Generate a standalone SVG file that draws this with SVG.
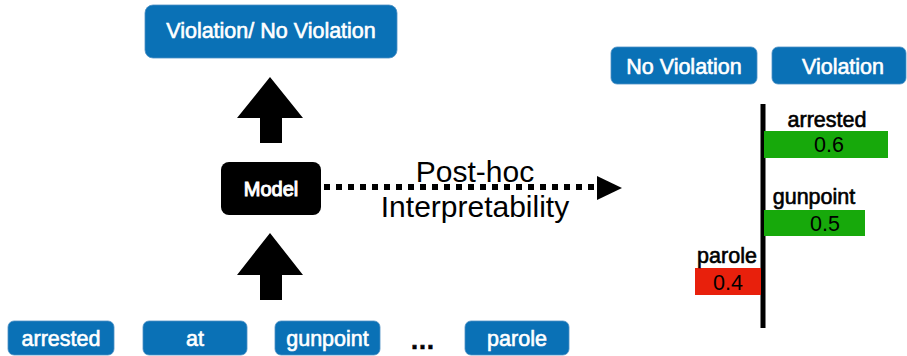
<svg xmlns="http://www.w3.org/2000/svg" width="907" height="356" viewBox="0 0 907 356">
<style>
.box{fill:#0a71b6;stroke:#4d8fc4;stroke-width:0.8}
.lbl{font-family:"Liberation Sans",Arial,sans-serif;font-size:21.5px;fill:#ffffff;stroke:#ffffff;stroke-width:0.6;text-anchor:middle}
.blk{font-family:"Liberation Sans",Arial,sans-serif;font-size:21.5px;fill:#000000;stroke:#000000;stroke-width:0.6;text-anchor:middle}
.num{font-family:"Liberation Sans",Arial,sans-serif;font-size:21.5px;fill:#000000;text-anchor:middle}
.big{font-family:"Liberation Sans",Arial,sans-serif;font-size:30px;fill:#000000;text-anchor:middle}
</style>
<rect width="907" height="356" fill="#ffffff"/>
<g id="output">
<rect class="box" x="145" y="5" width="252" height="53" rx="8"/>
<text class="lbl" x="271" y="38">Violation/ No Violation</text>
</g>
<g id="model">
<rect x="221" y="162" width="100" height="53" rx="8" fill="#000000"/>
<text class="lbl" x="271" y="195.5" style="font-size:20px;stroke-width:1">Model</text>
</g>
<g id="tok-arrested">
<rect class="box" x="8" y="321" width="106" height="34" rx="6"/>
<text class="lbl" x="61" y="345.5">arrested</text>
</g>
<g id="tok-at">
<rect class="box" x="143" y="321" width="104" height="34" rx="6"/>
<text class="lbl" x="195" y="345.5">at</text>
</g>
<g id="tok-gunpoint">
<rect class="box" x="275" y="321" width="105" height="34" rx="6"/>
<text class="lbl" x="327.5" y="345.5">gunpoint</text>
</g>
<text class="blk" x="422.5" y="349" style="font-size:25px;font-weight:bold">…</text>
<g id="tok-parole">
<rect class="box" x="465" y="321" width="104" height="34" rx="6"/>
<text class="lbl" x="517" y="345.5">parole</text>
</g>
<g id="connectors">
<polygon points="270,77 303,118 282,118 282,143 260,143 260,118 237,118" fill="#000000"/>
<polygon points="270,233 303,275 282,275 282,300 260,300 260,275 237,275" fill="#000000"/>
<line x1="324" y1="187" x2="597" y2="187" stroke="#000000" stroke-width="6" stroke-dasharray="6 6"/>
<polygon points="597,176 622,188 597,200" fill="#000000"/>
</g>
<text class="big" x="475" y="182">Post-hoc</text>
<text class="big" x="475" y="217">Interpretability</text>
<g id="cls-noviolation">
<rect class="box" x="611" y="47" width="146" height="37" rx="6"/>
<text class="lbl" x="684" y="73.5">No Violation</text>
</g>
<g id="cls-violation">
<rect class="box" x="772" y="47" width="134" height="37" rx="6"/>
<text class="lbl" x="843" y="73.5">Violation</text>
</g>
<g id="chart">
<line x1="763" y1="104" x2="763" y2="328" stroke="#000000" stroke-width="5"/>
<rect x="764" y="131" width="124" height="27" fill="#17a90b"/>
<text class="num" x="829" y="152">0.6</text>
<text class="blk" x="827" y="127">arrested</text>
<rect x="764" y="210" width="101" height="26" fill="#17a90b"/>
<text class="num" x="825" y="230.5">0.5</text>
<text class="blk" x="814" y="203.5">gunpoint</text>
<rect x="695" y="268" width="66" height="27" fill="#e8200c"/>
<text class="num" x="728" y="289.5">0.4</text>
<text class="blk" x="727" y="262.5">parole</text>
</g>
</svg>
